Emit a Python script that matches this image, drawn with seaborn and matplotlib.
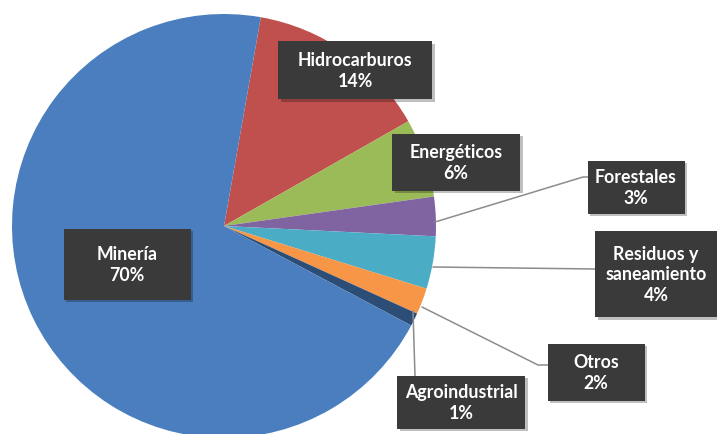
import matplotlib
matplotlib.use("Agg")
import matplotlib.pyplot as plt
import seaborn as sns
from matplotlib.patches import Rectangle

sns.set_theme(style="white")
plt.rcParams['font.family'] = ['Lato', 'DejaVu Sans']

categories = ["Hidrocarburos", "Energéticos", "Forestales", "Residuos y\nsaneamiento",
              "Otros", "Agroindustrial", "Minería"]
values = [14, 6, 3, 4, 2, 1, 70]
colors = ["#C0504D", "#9BBB59", "#8064A2", "#4BACC6", "#F79646", "#2C4D75", "#4A7EBF"]

W, H = 717, 435
fig = plt.figure(figsize=(W / 100, H / 100), dpi=100)
ax = fig.add_axes([0, 0, 1, 1])

cx, cy, r = 224, H - 227, 212
ax.pie(values, colors=colors, startangle=80, counterclock=False,
       center=(cx, cy), radius=r, frame=True,
       wedgeprops=dict(linewidth=0))

# label boxes: (center x, center y in pixels from top, width, height)
boxes = {
    "Hidrocarburos": (355, 71, 154, 58),
    "Energéticos": (456, 163, 128, 57),
    "Forestales": (636, 188, 97, 53),
    "Residuos y\nsaneamiento": (656, 275, 122, 86),
    "Otros": (596, 373, 97, 57),
    "Agroindustrial": (461, 403, 128, 53),
    "Minería": (127, 265, 127, 71),
}
# leader lines (pixel coords from top)
leaders = {
    "Forestales": [(435, 223), (583, 178), (588, 178)],
    "Residuos y\nsaneamiento": [(433, 268), (595, 270)],
    "Otros": [(422, 308), (538, 366), (548, 366)],
    "Agroindustrial": [(413, 312), (415, 377)],
}
for name, pts in leaders.items():
    xs = [p[0] for p in pts]
    ys = [H - p[1] for p in pts]
    ax.plot(xs, ys, color="#8c8c8c", lw=1.1, zorder=3)

for name, val in zip(categories, values):
    bx, by, bw, bh = boxes[name]
    yb = H - by
    ax.add_patch(Rectangle((bx - bw / 2 + 2.5, yb - bh / 2 - 2.5), bw, bh,
                           facecolor="#000000", alpha=0.25, edgecolor="none", zorder=4))
    ax.add_patch(Rectangle((bx - bw / 2, yb - bh / 2), bw, bh,
                           facecolor="#3a3a3a", edgecolor="none", zorder=5))
    ax.text(bx, yb, f"{name}\n{val}%", ha="center", va="center", color="white",
            fontsize=12.8, fontweight="bold", linespacing=1.25, zorder=6)

ax.set_xlim(0, W)
ax.set_ylim(0, H)
ax.set_aspect("auto")
ax.axis("off")
fig.savefig("out.png", dpi=100)
